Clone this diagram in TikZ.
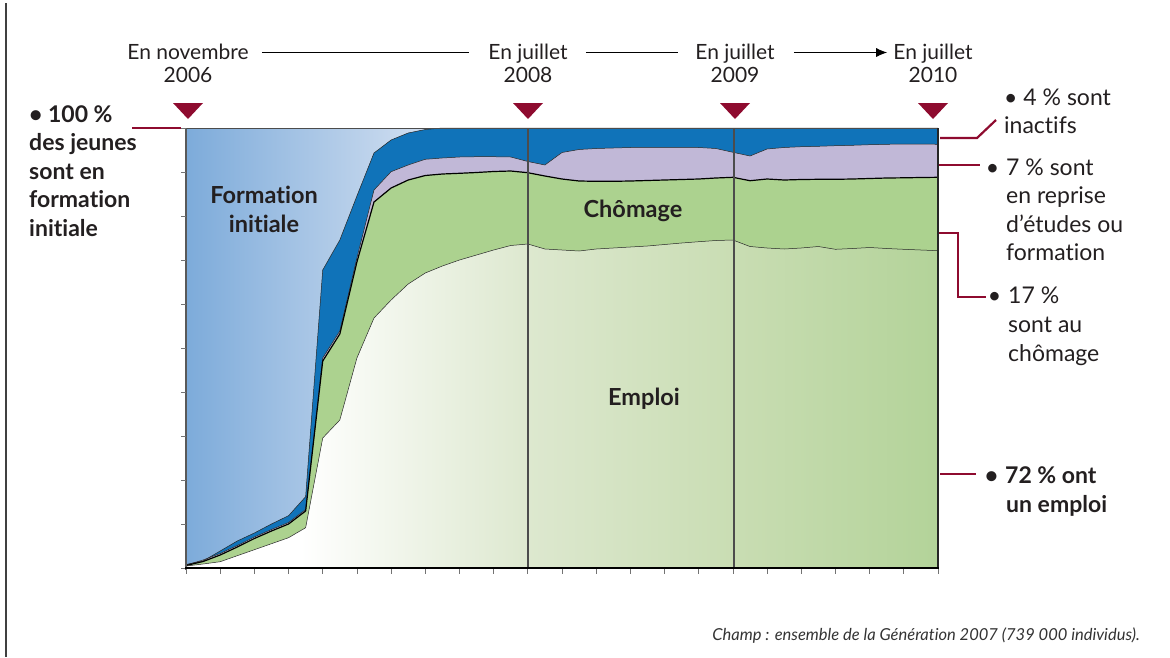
\documentclass[tikz,border=0pt]{standalone}
\usepackage{fontspec}
\setmainfont{Lato}[Ligatures={NoCommon,NoRare,NoContextual}]
\usetikzlibrary{arrows.meta}

\definecolor{fiL}{HTML}{7DABDA}
\definecolor{fiR}{HTML}{D3E0F1}
\definecolor{inact}{HTML}{1073B9}
\definecolor{repr}{HTML}{C1B8D7}
\definecolor{chom}{HTML}{ACD28F}
\definecolor{empA}{HTML}{DDE8CF}
\definecolor{empB}{HTML}{C9DDB3}
\definecolor{empC}{HTML}{B3D399}
\definecolor{leadred}{HTML}{8E0B2F}
\definecolor{txt}{HTML}{231F20}

% monthly series (Nov 2006 .. Jul 2010), upper edge of each stacked band, in px
\newcommand\ylInact{564.5,561,551,541,533,524,515.7,496.7,270,240,196,153,140,133,129.5,128,128,128,128,128,128,128,128,128,128,128,128,128,128,128,128,128,128,128,128,128,128,128,128,128,128,128,128,128,128}
\newcommand\ylRepr{565,560,553.5,545.5,537,529.5,522.5,509.5,358,331,258,190,171.7,165,159.3,158,157,156.7,156.7,157,161.5,165,152.5,149.5,148.5,148,147.5,147.3,147.3,147.3,147.5,148.5,152.3,156,149,147.5,146.7,146.3,145.7,145.3,144.7,144.3,144,144,144.3}
\newcommand\ylChom{565.5,561.5,555,547,538.5,531,524,511,361,334,262,202,188,180,175.5,174,173.3,172.5,171.5,171,172.7,176,179,181,181.3,181.3,181,180.5,180,179.5,179,178,177.3,180.7,179,180,179.5,179.3,179.3,179,178.5,178,177.8,177.5,177.3}
\newcommand\ylEmp{566,564,561.7,555.7,549.7,543.7,537.7,527.7,438,420,358,318,300,284,273,266,260,255,250,245.5,244,249,250,251,249,248,247,246,244.5,243,241.7,240.5,240,246.5,248,249,248,246.5,249.3,248.5,247.5,248.5,249.3,250,250.7}

% polyline through a series, one point per month
\newcommand\serie[1]{\foreach \yy [count=\ii from 0] in #1 {-- ({186+17.0909*\ii},\yy)}}

\tikzset{
  tl/.style={font=\fontsize{21}{24}\selectfont, text=txt, inner sep=0pt, text height=15pt, text depth=2pt, anchor=base},
  tline/.style={line width=0.9pt, black},
  lbl/.style={font=\fontsize{23}{26}\selectfont, text=txt, anchor=base west, inner sep=0pt},
  lblb/.style={lbl, font=\fontsize{23}{26}\selectfont\bfseries},
  inlbl/.style={font=\fontsize{23.5}{26}\selectfont\bfseries, text=txt, anchor=base, inner sep=0pt},
  lead/.style={line width=2.2pt, leadred},
  tick/.style={line width=0.8pt, black!55},
  edge/.style={line width=0.5pt, black!85},
}

\begin{document}
\begin{tikzpicture}[x=1pt,y=-1pt]
\useasboundingbox (0,0) rectangle (1170,657);

% page rule on the left
\draw[line width=1.4pt, black!75] (6,3) -- (6,657);

% ---- stacked areas ----
% formation initiale (background)
\shade[left color=fiL, right color=fiR] (186,128) rectangle (431,568);
\fill[fiR] (430,128) rectangle (938,568);
% inactifs
\fill[inact] (186,568) \serie{\ylInact} -- (938,568) -- cycle;
% reprise d'études / formation
\fill[repr] (186,568) \serie{\ylRepr} -- (938,568) -- cycle;
% chômage
\fill[chom] (186,568) \serie{\ylChom} -- (938,568) -- cycle;
% emploi
\begin{scope}
  \clip (186,568) \serie{\ylEmp} -- (938,568) -- cycle;
  \fill[white] (186,128) rectangle (301,568);
  \shade[left color=white, right color=empA] (300,128) rectangle (529,568);
  \shade[left color=empA, right color=empB] (528,128) rectangle (735,568);
  \shade[left color=empB, right color=empC] (734,128) rectangle (938,568);
\end{scope}

% band edges
\draw[edge] (186,564.5) \serie{\ylInact};
\draw[edge] (186,565) \serie{\ylRepr};
\draw[line width=1.2pt, black] (186,565.5) \serie{\ylChom};
\draw[edge] (186,566) \serie{\ylEmp};

% year dividers
\draw[line width=1.1pt, black!70] (528,128) -- (528,568);
\draw[line width=1.1pt, black!70] (734,128) -- (734,568);

% frame and axes
\draw[line width=0.9pt, black!70] (186,128) -- (938,128);
\draw[line width=1.4pt, black!85] (938,128) -- (938,568);
\draw[line width=1.5pt, black!65] (186,128) -- (186,570);
\foreach \k in {0,...,10} \draw[tick] (181,{128+44*\k}) -- (186,{128+44*\k});
\foreach \k in {0,...,22} \draw[tick] ({186+34.1818*\k},568) -- ({186+34.1818*\k},574);
\draw[line width=2.8pt, black] (185,568) -- (939,568);

% band labels
\node[inlbl] (fi1) at (264,203) {Formation};
\node[inlbl] (fi2) at (264,232) {initiale};
\node[inlbl] (chomlbl) at (633,217) {Chômage};
\node[inlbl] (emplbl) at (644,405) {Emploi};

% ---- timeline ----
\node[tl] (t06a) at (188,59) {En novembre};
\node[tl] (t06b) at (188,82) {2006};
\node[tl] (t08a) at (528,59) {En juillet};
\node[tl] (t08b) at (528,82) {2008};
\node[tl] (t09a) at (735,59) {En juillet};
\node[tl] (t09b) at (735,82) {2009};
\node[tl] (t10a) at (933,59) {En juillet};
\node[tl] (t10b) at (933,82) {2010};
\draw[tline] ([xshift=13pt]t06a.east) -- ([xshift=-19pt]t08a.west);
\draw[tline] ([xshift=18pt]t08a.east) -- ([xshift=-17pt]t09a.west);
\draw[tline, -{Latex[length=11pt,width=9pt]}] ([xshift=19pt]t09a.east) -- ([xshift=-6pt]t10a.west);

% date markers
\foreach \xx in {188,528,735,933}
  \fill[leadred] (\xx-15,103) -- (\xx+15,103) -- (\xx,119) -- cycle;

% ---- left label ----
\node[lblb] (l1) at (29,122) {• 100 \%};
\node[lblb] (l2) at (29,150) {des jeunes};
\node[lblb] (l3) at (29,179) {sont en};
\node[lblb] (l4) at (29,207) {formation};
\node[lblb] (l5) at (29,236) {initiale};
\coordinate (k100a) at (132,128);
\coordinate (k100b) at (181,128);
\draw[lead] (k100a) -- (k100b);

% ---- right labels ----
\node[lbl] (r4a) at (1004,105) {• 4 \% sont};
\node[lbl] (r4b) at (1004,133) {inactifs};
\node[lbl] (r7a) at (1006,175) {\llap{•\hspace{7pt}}7 \% sont};
\node[lbl] (r7b) at (1006,203) {en reprise};
\node[lbl] (r7c) at (1006,232) {d’études ou};
\node[lbl] (r7d) at (1006,260) {formation};
\node[lbl] (r17a) at (1008,303) {\llap{•\hspace{7pt}}17 \%};
\node[lbl] (r17b) at (1008,332) {sont au};
\node[lbl] (r17c) at (1008,361) {chômage};
\node[lblb] (r72a) at (1005,483) {\llap{•\hspace{7pt}}72 \% ont};
\node[lblb] (r72b) at (1006,512) {un emploi};

\coordinate (k4) at (940,138);
\coordinate (k7) at (939,165);
\coordinate (k17) at (939,233);
\coordinate (k72) at (940,474);
\draw[lead] (k4) -- ++(37,0) -- ++(19,-18);
\draw[lead] (k7) -- ++(41,0);
\draw[lead] (k17) -- ++(19,0) -- ++(0,64) -- ++(28,0);
\draw[lead] (k72) -- ++(36,0);

% source note
\node[font=\fontsize{16.5}{19}\selectfont\itshape, text=black!80, anchor=base east, inner sep=0pt] (note) at (1140,640)
  {Champ : ensemble de la Génération 2007 (739 000 individus).};
\end{tikzpicture}
\end{document}
